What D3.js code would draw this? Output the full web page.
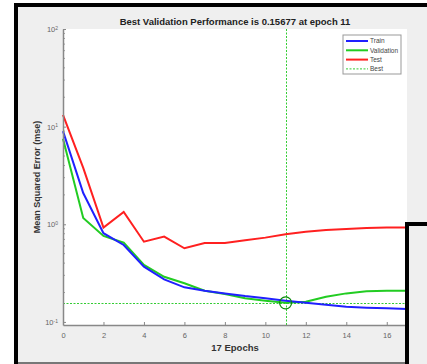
<!DOCTYPE html>
<html>
<head>
<meta charset="utf-8">
<script src="https://cdnjs.cloudflare.com/ajax/libs/d3/7.8.5/d3.min.js"></script>
<style>
  body { margin: 0; background: #fff; }
  text { font-family: "Liberation Sans", Arial, sans-serif; }
</style>
</head>
<body>
<div id="chart"></div>
<script>
// data
var epochs = d3.range(0, 18);
var trainPerf = [9.0, 2.09, 0.81, 0.614, 0.368, 0.273, 0.226, 0.209, 0.196, 0.184, 0.175, 0.165, 0.157, 0.150, 0.143, 0.140, 0.138, 0.136];
var valPerf   = [7.5, 1.16, 0.76, 0.648, 0.383, 0.290, 0.249, 0.209, 0.193, 0.175, 0.165, 0.15677, 0.161, 0.181, 0.196, 0.206, 0.209, 0.209];
var testPerf  = [13.2, 3.78, 0.925, 1.34, 0.663, 0.747, 0.568, 0.644, 0.644, 0.686, 0.73, 0.79, 0.84, 0.875, 0.896, 0.917, 0.925, 0.925];
var bestEpoch = 11;
var bestPerf = 0.15677;
var xTicks = [0, 2, 4, 6, 8, 10, 12, 14, 16];
var yTicks = [0.1, 1, 10, 100];
var legendNames = ["Train", "Validation", "Test", "Best"];

var svgWidth = 427, svgHeight = 364;
var plot = { left: 63, right: 407, top: 29, bottom: 325 };

var svg = d3.select("#chart").append("svg")
  .attr("width", svgWidth)
  .attr("height", svgHeight);

// figure background + frames
svg.append("rect").attr("x", 14).attr("y", 3).attr("width", svgWidth - 14).attr("height", svgHeight - 3)
  .attr("fill", "#efefef");
svg.append("rect").attr("x", 14).attr("y", 3).attr("width", 4).attr("height", svgHeight - 3).attr("fill", "#000");
svg.append("rect").attr("x", 14).attr("y", 3).attr("width", svgWidth - 14).attr("height", 4).attr("fill", "#000");
svg.append("rect").attr("x", 18).attr("y", 362).attr("width", 387).attr("height", 2).attr("fill", "#777");

// plot area
svg.append("rect").attr("x", plot.left).attr("y", plot.top)
  .attr("width", plot.right - plot.left).attr("height", plot.bottom - plot.top)
  .attr("fill", "#fff");

var x = d3.scaleLinear().domain([0, 17]).range([plot.left, plot.right]);
var y = d3.scaleLog().domain([0.093, 100]).range([plot.bottom, plot.top]);

var g = svg.append("g");
var bestColor = "#33cc33";

// best lines (dotted)
var bx = Math.round(x(bestEpoch)) + 0.5;
var by = Math.round(y(bestPerf)) + 0.5;
g.append("line")
  .attr("x1", bx).attr("x2", bx)
  .attr("y1", plot.top).attr("y2", plot.bottom)
  .attr("stroke", bestColor).attr("stroke-width", 1).attr("stroke-dasharray", "2,1.5");
g.append("line")
  .attr("x1", plot.left).attr("x2", plot.right)
  .attr("y1", by).attr("y2", by)
  .attr("stroke", bestColor).attr("stroke-width", 1).attr("stroke-dasharray", "2,1.5");

var line = d3.line().x((d, i) => x(epochs[i])).y(d => y(d));

var series = [
  { vals: testPerf, color: "#ff2020" },
  { vals: valPerf, color: "#22cc22" },
  { vals: trainPerf, color: "#2020ff" }
];
series.forEach(function(s) {
  g.append("path").datum(s.vals)
    .attr("d", line)
    .attr("fill", "none")
    .attr("stroke", s.color)
    .attr("stroke-width", 2);
});

// best circle
g.append("circle")
  .attr("cx", x(bestEpoch)).attr("cy", y(bestPerf))
  .attr("r", 6)
  .attr("fill", "none")
  .attr("stroke", "#0a8a0a")
  .attr("stroke-width", 1.2);

// axes
var axisColor = "#888";
var tickColor = "#666";

var xAxis = d3.axisBottom(x).tickValues(xTicks).tickSize(-3).tickPadding(8).tickSizeOuter(0);
var xg = svg.append("g").attr("transform", `translate(0, ${plot.bottom})`).call(xAxis);
xg.select(".domain").attr("stroke", axisColor).attr("stroke-width", 1.5);
xg.selectAll(".tick line").attr("stroke", axisColor);
xg.selectAll(".tick text").attr("fill", tickColor).attr("font-size", "7.5px");

// y minor ticks
var minor = [];
[0.1, 1, 10].forEach(function(d) {
  for (var k = 2; k <= 9; k++) minor.push(d * k);
});
svg.append("g").selectAll("line").data(minor).enter().append("line")
  .attr("x1", plot.left).attr("x2", plot.left + 2)
  .attr("y1", d => y(d)).attr("y2", d => y(d))
  .attr("stroke", axisColor).attr("stroke-width", 0.8);

var yAxis = d3.axisLeft(y).tickValues(yTicks).tickSize(-3).tickPadding(6).tickSizeOuter(0).tickFormat("");
var yg = svg.append("g").attr("transform", `translate(${plot.left}, 0)`).call(yAxis);
yg.select(".domain").attr("stroke", axisColor).attr("stroke-width", 1.5);
yg.selectAll(".tick line").attr("stroke", axisColor);

yg.selectAll(".tick").each(function(d) {
  var t = d3.select(this).select("text")
    .attr("fill", tickColor).attr("font-size", "7.5px").attr("x", -5);
  t.text(null);
  t.append("tspan").text("10");
  t.append("tspan").attr("dy", "-0.45em").attr("font-size", "5px").text(Math.round(Math.log10(d)));
});

// title and labels
svg.append("text")
  .attr("x", (plot.left + plot.right) / 2).attr("y", 25)
  .attr("text-anchor", "middle").attr("font-size", "9.5px").attr("font-weight", "bold")
  .attr("fill", "#222")
  .text("Best Validation Performance is " + bestPerf + " at epoch " + bestEpoch);

svg.append("text")
  .attr("x", (plot.left + plot.right) / 2).attr("y", 351)
  .attr("text-anchor", "middle").attr("font-size", "9.5px").attr("font-weight", "bold")
  .attr("fill", "#333")
  .text(epochs.length - 1 + " Epochs");

svg.append("text")
  .attr("transform", `translate(40, ${(plot.top + plot.bottom) / 2}) rotate(-90)`)
  .attr("text-anchor", "middle").attr("font-size", "9px").attr("font-weight", "bold")
  .attr("fill", "#333")
  .text("Mean Squared Error  (mse)");

// legend
var legend = svg.append("g").attr("transform", "translate(343, 35)");
legend.append("rect").attr("width", 58).attr("height", 39)
  .attr("fill", "#fff").attr("stroke", "#999").attr("stroke-width", 1);
var legendColors = ["#2020ff", "#22cc22", "#ff2020", bestColor];
legendNames.forEach(function(name, i) {
  var ly = 6 + i * 9.3;
  legend.append("line")
    .attr("x1", 3).attr("x2", 25).attr("y1", ly).attr("y2", ly)
    .attr("stroke", legendColors[i])
    .attr("stroke-width", i < 3 ? 2 : 1)
    .attr("stroke-dasharray", i < 3 ? null : "2,1.5");
  legend.append("text")
    .attr("x", 27).attr("y", ly + 2.3)
    .attr("font-size", "6.5px").attr("fill", "#444")
    .text(name);
});

// overlapping black box at lower right
svg.append("rect").attr("x", 405).attr("y", 222).attr("width", 22).attr("height", 142).attr("fill", "#efefef");
svg.append("rect").attr("x", 405).attr("y", 222).attr("width", 4).attr("height", 142).attr("fill", "#000");
svg.append("rect").attr("x", 405).attr("y", 222).attr("width", 22).attr("height", 4).attr("fill", "#000");
</script>
</body>
</html>
